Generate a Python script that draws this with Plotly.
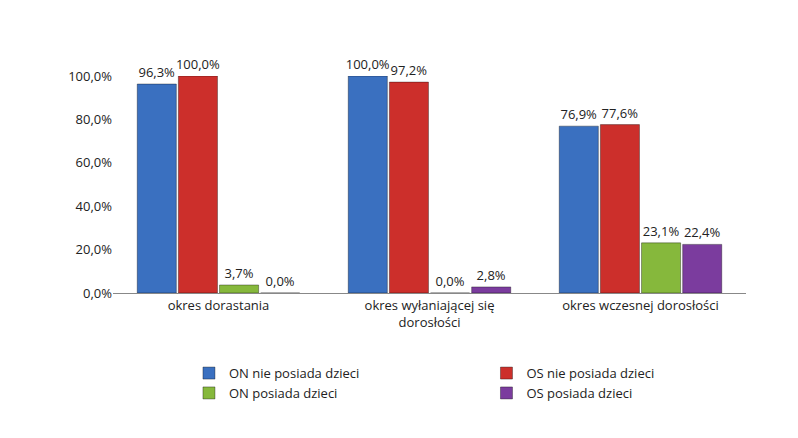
import plotly.graph_objects as go

categories = ["okres dorastania", "okres wyłaniającej się<br>dorosłości", "okres wczesnej dorosłości"]
series_names = ["ON nie posiada dzieci", "OS nie posiada dzieci", "ON posiada dzieci", "OS posiada dzieci"]
on_nie = [96.3, 100.0, 76.9]
os_nie = [100.0, 97.2, 77.6]
on_tak = [3.7, 0.0, 23.1]
os_tak = [0.0, 2.8, 22.4]
colors = ["#3a70c0", "#cc2f2b", "#86b83c", "#7b3c9e"]
tick_vals = [0, 20, 40, 60, 80, 100]
tick_text = ["0,0%", "20,0%", "40,0%", "60,0%", "80,0%", "100,0%"]

fig = go.Figure()
for name, vals, c in zip(series_names, [on_nie, os_nie, on_tak, os_tak], colors):
    fig.add_trace(go.Bar(
        x=categories, y=vals, name=name,
        marker=dict(color=c, line=dict(color="rgba(0,0,0,0.35)", width=1)),
        texttemplate="%{y:.1f}%", textposition="outside", constraintext="none",
        textfont=dict(size=13, color="#222"), cliponaxis=False,
    ))

fig.update_layout(
    width=798, height=438,
    paper_bgcolor="white", plot_bgcolor="white",
    separators=", ",
    font=dict(family="Open Sans, DejaVu Sans", size=13, color="#222"),
    barmode="group", bargap=0.22, bargroupgap=0.05,
    margin=dict(l=105, r=60, t=68, b=153),
    yaxis=dict(range=[0, 100], tickvals=tick_vals, ticktext=tick_text,
               showgrid=False, zeroline=False, showline=False),
    xaxis=dict(showline=True, linecolor="#888", tickfont=dict(size=13)),
    legend=dict(orientation="h", x=0.12, y=-0.3, xanchor="left", yanchor="top",
                entrywidth=0.47, entrywidthmode="fraction", font=dict(size=13),
                traceorder="normal"),
    showlegend=True,
)

fig.write_html("out.html")
